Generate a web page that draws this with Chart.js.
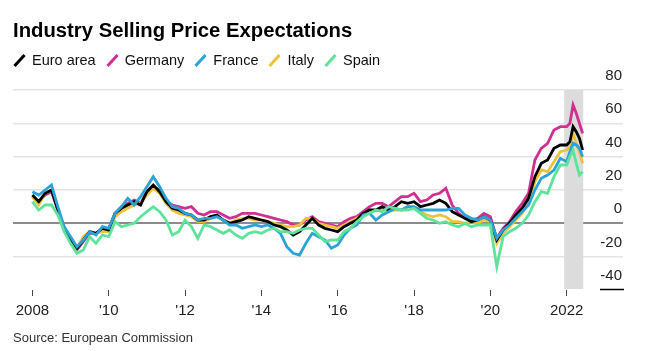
<!DOCTYPE html>
<html>
<head>
<meta charset="utf-8">
<script src="https://cdn.jsdelivr.net/npm/chart.js@4.4.1/dist/chart.umd.min.js"></script>
<style>
  html, body { margin: 0; padding: 0; background: #fff; }
  body { width: 651px; height: 351px; position: relative; overflow: hidden; font-family: "Liberation Sans", Arial, sans-serif; }
  #title { position: absolute; left: 13px; top: 19px; font-size: 20.3px; font-weight: bold; color: #000; white-space: nowrap; }
  #legend { position: absolute; left: 13px; top: 52px; font-size: 14.5px; color: #111; white-space: nowrap; }
  #legend span.item { display: inline-block; margin-right: 10px; }
  #legend i { display: inline-block; width: 3px; height: 15px; margin: 0 11px -3px 5px; transform: rotate(42deg); }
  #source { position: absolute; left: 13px; top: 330px; font-size: 13px; color: #333; white-space: nowrap; }
  #wrap { position: absolute; left: 0; top: 0; width: 651px; height: 351px; }
</style>
</head>
<body>
<div id="wrap"><canvas id="chart"></canvas></div>
<div id="title">Industry Selling Price Expectations</div>
<div id="legend"></div>
<div id="source">Source: European Commission</div>
<script>
// months since Jan 2008: every 2 months to Nov 2021, then monthly for 2022
const months = [
  0, 2, 4, 6, 8, 10, 12, 14, 16, 18, 20, 22,
  24, 26, 28, 30, 32, 34, 36, 38, 40, 42, 44, 46,
  48, 50, 52, 54, 56, 58, 60, 62, 64, 66, 68, 70,
  72, 74, 76, 78, 80, 82, 84, 86, 88, 90, 92, 94,
  96, 98, 100, 102, 104, 106, 108, 110, 112, 114, 116, 118,
  120, 122, 124, 126, 128, 130, 132, 134, 136, 138, 140, 142,
  144, 146, 148, 150, 152, 154, 156, 158, 160, 162, 164, 166,
  168, 169, 170, 171, 172, 173
];

const euroArea = [
  17, 13, 18, 20, 8, -4,   -10, -15, -10, -5, -6, -3,
  -4, 6, 9, 11, 13, 11,    19, 23, 19, 13, 9, 8,
  6, 5, 2, 2, 4, 5,        2, 0, 1, 2, 4, 3,
  2, 1, -1, -2, -4, -7,    -5, -1, 3, -1, -3, -4,
  -5, -2, 0, 2, 6, 8,      8, 10, 8, 10, 13, 12,
  13, 10, 11, 12, 14, 12,  7, 5, 3, 1, 2, 4,
  2, -10, -4, 0, 5, 9,     15, 28, 36, 38, 45, 47,
  47, 49, 58, 55, 51, 44
];

const germany = [
  16, 13, 17, 19, 8, -4,   -11, -16, -11, -6, -6, -3,
  -3, 6, 10, 12, 14, 12,   19, 22, 20, 14, 11, 10,
  9, 10, 6, 5, 7, 7,       5, 3, 4, 6, 6, 6,
  5, 4, 3, 2, 1, -1,       -1, 2, 4, 1, 0, -1,
  -2, 1, 3, 4, 7, 10,      12, 12, 10, 13, 16, 16,
  18, 13, 14, 17, 18, 21,  11, 6, 3, 2, 3, 6,
  4, -9, -3, 1, 7, 12,     18, 38, 45, 48, 56, 58,
  58, 60, 71, 66, 60, 54
];

const france = [
  19, 17, 20, 23, 10, -2,  -8, -14, -10, -5, -7, -2,
  -3, 6, 10, 15, 11, 16,   22, 28, 22, 15, 10, 9,
  6, 5, 2, 3, 3, 4,        2, -1, -1, -3, -2, -1,
  -2, -1, -3, -6, -14, -18, -19, -12, -6, -8, -10, -15,
  -13, -7, -3, -1, 5, 6,   2, 5, 7, 9, 8, 10,
  10, 8, 8, 8, 8, 8,       9, 9, 5, 3, 2, 4,
  2, -9, -4, -1, 3, 7,     11, 20, 27, 29, 32, 39,
  37, 43, 48, 47, 45, 40
];

const italy = [
  16, 11, 18, 20, 9, -4,   -10, -15, -8, -5, -6, -5,
  -5, 4, 7, 9, 11, 12,     17, 21, 18, 12, 8, 6,
  5, 4, 1, 1, 3, 4,        2, 0, 2, 3, 3, 2,
  2, 1, 0, -1, -2, -2,     -1, 3, 3, 0, -1, -2,
  -3, -1, 1, 3, 5, 7,      8, 9, 7, 8, 8, 10,
  9, 7, 5, 4, 5, 4,        1, 1, 0, 1, 0, 2,
  1, -12, -6, -2, 2, 6,    12, 25, 32, 31, 37, 43,
  44, 46, 54, 48, 43, 36
];

const spain = [
  13, 8, 11, 11, 5, -5,    -12, -18, -16, -8, -12, -7,
  -8, 1, -2, -1, 0, 4,     7, 10, 7, 2, -7, -5,
  2, -2, -9, -1, -2, -4,   -6, -4, -7, -9, -6, -5,
  -6, -4, -3, -5, -5, -6,  -4, -3, -3, -7, -11, -10,
  -10, -5, -3, 1, 4, 6,    8, 7, 10, 9, 8, 8,
  9, 6, 3, 2, 0, 1,        -1, -2, 0, -2, -1, -1,
  -1, -26, -8, -5, -3, 0,  5, 13, 19, 18, 28, 35,
  35, 40, 44, 36, 29, 31
];

const seriesNames = ['Euro area', 'Germany', 'France', 'Italy', 'Spain'];
const seriesColors = ['#000000', '#d12f8f', '#2ba3d6', '#f0c23c', '#5fe39a'];
const seriesData = [euroArea, germany, france, italy, spain];
// drawing order: lower = on top
const seriesOrder = [2, 4, 1, 3, 0];

const xTickMonths = [0, 24, 48, 72, 96, 120, 144, 168];
const xTickLabels = ['2008', "'10", "'12", "'14", "'16", "'18", "'20", '2022'];
const yTicks = [80, 60, 40, 20, 0, -20, -40];

// shaded period (months since Jan 2008)
const bandStart = 167.2;
const bandEnd = 173.2;

// legend
const legendEl = document.getElementById('legend');
seriesNames.forEach((name, i) => {
  const item = document.createElement('span');
  item.className = 'item';
  item.innerHTML = `<i style="background:${seriesColors[i]}"></i>${name}`;
  legendEl.appendChild(item);
});

const bandPlugin = {
  id: 'band',
  beforeDatasetsDraw(chart) {
    const { ctx, chartArea, scales } = chart;
    const x1 = scales.x.getPixelForValue(bandStart);
    const x2 = scales.x.getPixelForValue(bandEnd);
    ctx.save();
    ctx.fillStyle = '#dcdcdc';
    ctx.fillRect(x1, chartArea.top, x2 - x1, chartArea.bottom - chartArea.top - 1);
    ctx.restore();
  },
  afterDraw(chart) {
    const { ctx, chartArea, scales } = chart;
    const y = Math.round(scales.y.getPixelForValue(-40)) - 0.5;
    ctx.save();
    ctx.strokeStyle = '#000';
    ctx.lineWidth = 1.5;
    ctx.beginPath();
    ctx.moveTo(chartArea.right - 23, y);
    ctx.lineTo(chartArea.right + 1, y);
    ctx.stroke();
    ctx.restore();
  }
};

const ctx = document.getElementById('chart').getContext('2d');
new Chart(ctx, {
  type: 'line',
  data: {
    datasets: seriesNames.map((name, i) => ({
      label: name,
      data: months.map((m, j) => ({ x: m, y: seriesData[i][j] })),
      borderColor: seriesColors[i],
      borderWidth: 2.8,
      pointRadius: 0,
      tension: 0,
      fill: false,
      order: seriesOrder[i]
    }))
  },
  options: {
    responsive: true,
    maintainAspectRatio: false,
    animation: false,
    layout: { padding: { left: 13, right: 28, top: 90, bottom: 25 } },
    plugins: {
      legend: { display: false },
      tooltip: { enabled: false }
    },
    scales: {
      x: {
        type: 'linear',
        min: -6.1,
        max: 185.7,
        afterBuildTicks: scale => {
          scale.ticks = xTickMonths.map(v => ({ value: v }));
        },
        border: { display: false },
        grid: {
          drawOnChartArea: false,
          drawTicks: true,
          tickLength: 6,
          tickColor: '#444',
          tickWidth: 1
        },
        ticks: {
          autoSkip: false,
          maxRotation: 0,
          padding: 6,
          color: '#222',
          font: { family: 'Liberation Sans, Arial, sans-serif', size: 15 },
          callback: value => xTickLabels[xTickMonths.indexOf(value)]
        }
      },
      y: {
        position: 'right',
        min: -40,
        max: 80,
        afterBuildTicks: scale => {
          scale.ticks = yTicks.map(v => ({ value: v }));
        },
        border: { display: false },
        grid: {
          drawTicks: false,
          color: c => c.tick.value === 0 ? '#8c8c8c' : (c.tick.value === -40 ? 'rgba(0,0,0,0)' : '#e4e4e4'),
          lineWidth: c => c.tick.value === 0 ? 2 : 1.6
        },
        ticks: {
          mirror: true,
          padding: -1,
          labelOffset: -14,
          color: '#222',
          font: { family: 'Liberation Sans, Arial, sans-serif', size: 15 },
          callback: value => String(value)
        }
      }
    }
  },
  plugins: [bandPlugin]
});
</script>
</body>
</html>
